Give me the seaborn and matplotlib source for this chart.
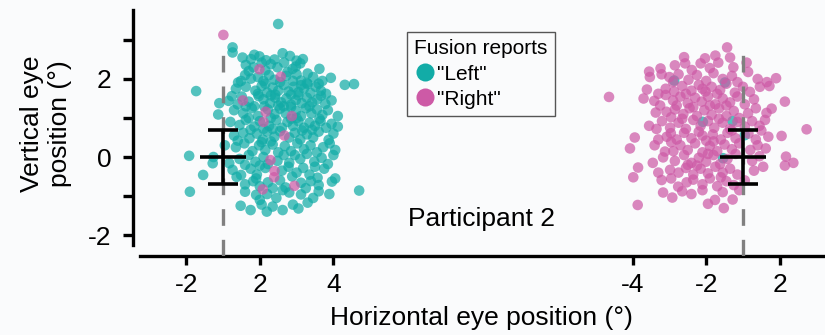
import numpy as np
import pandas as pd
import matplotlib
matplotlib.use("Agg")
import matplotlib.pyplot as plt
from matplotlib.lines import Line2D
import seaborn as sns

# ---------------------------------------------------------------------------
# Eye positions (deg) for each trial, split by stimulus block and by report.
# Horizontal values are relative to each block's fixation line.
# ---------------------------------------------------------------------------
REPORTS = ['"Left"', '"Right"']

BLOCK_A_LEFT = [
    (0.26, 2.81), (0.26, 2.68), (0.53, 2.55), (0.76, 2.51), (0.99, 2.58), (1.17, 2.48),
    (1.82, 2.59), (2.17, 2.51), (0.85, 2.62), (1.40, 2.50), (1.62, 2.66), (2.00, 2.47),
    (0.62, 2.36), (0.83, 2.30), (1.05, 2.42), (1.30, 2.38), (1.48, 2.30), (1.66, 2.42),
    (1.89, 2.26), (1.98, 2.32), (2.30, 2.14), (2.62, 2.26), (1.15, 2.22), (0.70, 2.20),
    (1.75, 2.18), (2.10, 2.40),
    (0.41, 1.91), (0.49, 1.95), (0.76, 2.01), (0.95, 2.05), (1.10, 1.95), (1.25, 2.10),
    (1.40, 1.98), (1.72, 2.08), (1.90, 1.95), (2.12, 1.96), (2.30, 1.87), (2.45, 2.05),
    (2.93, 2.03), (3.31, 1.85), (3.56, 1.87), (1.55, 1.92), (2.00, 2.12), (0.60, 2.10),
    (2.70, 1.95),
    (0.35, 1.75), (0.62, 1.80), (0.88, 1.70), (1.05, 1.82), (1.20, 1.65), (1.35, 1.78),
    (1.50, 1.70), (1.65, 1.85), (1.78, 1.68), (1.92, 1.80), (2.05, 1.66), (2.20, 1.76),
    (2.38, 1.64), (2.52, 1.80), (2.66, 1.70), (2.80, 1.62), (1.15, 1.88), (1.42, 1.60),
    (1.85, 1.60), (2.28, 1.90), (0.95, 1.62), (2.12, 1.84), (2.60, 1.88),
    (-0.10, 1.38), (0.15, 1.44), (0.24, 1.56), (0.51, 1.55), (0.97, 1.56), (0.40, 1.35),
    (0.70, 1.42), (0.85, 1.30), (1.10, 1.48), (1.28, 1.38), (1.42, 1.52), (1.58, 1.40),
    (1.72, 1.50), (1.85, 1.34), (1.98, 1.46), (2.14, 1.38), (2.28, 1.52), (2.42, 1.40),
    (2.56, 1.48), (2.66, 1.57), (2.78, 1.36), (2.95, 1.45), (1.30, 1.58), (1.65, 1.30),
    (2.05, 1.58), (2.35, 1.30), (1.50, 1.32), (0.62, 1.30),
    (-0.13, 1.09), (0.30, 1.20), (0.55, 1.12), (0.78, 1.25), (0.95, 1.05), (1.22, 1.22),
    (1.40, 1.10), (1.55, 1.24), (1.70, 1.12), (1.98, 1.18), (2.12, 1.05), (2.25, 1.25),
    (2.40, 1.12), (2.55, 1.22), (2.70, 1.08), (2.85, 1.20), (3.12, 1.05), (1.30, 1.00),
    (1.85, 1.28), (2.00, 1.00), (2.62, 0.98), (0.70, 1.00), (1.12, 1.30),
    (0.20, 0.90), (0.45, 0.82), (0.62, 0.95), (0.85, 0.78), (1.00, 0.92), (1.25, 0.80),
    (1.45, 0.95), (1.60, 0.75), (1.75, 0.90), (1.90, 0.80), (2.05, 0.92), (2.20, 0.75),
    (2.35, 0.88), (2.50, 0.80), (2.65, 0.92), (2.80, 0.75), (2.95, 0.85), (3.12, 0.78),
    (1.35, 0.72), (1.85, 0.98), (2.42, 0.70), (0.75, 0.70), (1.10, 0.72),
    (0.30, 0.55), (0.55, 0.62), (0.72, 0.48), (0.92, 0.60), (1.08, 0.45), (1.20, 0.65),
    (1.40, 0.52), (1.55, 0.66), (1.80, 0.50), (1.95, 0.62), (2.10, 0.45), (2.28, 0.58),
    (2.45, 0.50), (2.60, 0.65), (2.87, 0.44), (3.00, 0.60), (1.30, 0.40), (2.15, 0.68),
    (0.40, 0.42),
    (-0.26, 0.00), (0.05, 0.30), (0.35, 0.25), (0.58, 0.35), (0.80, 0.15), (0.98, 0.30),
    (1.15, 0.18), (1.35, 0.32), (1.50, 0.12), (1.68, 0.28), (1.85, 0.15), (2.02, 0.35),
    (2.20, 0.20), (2.38, 0.30), (2.55, 0.12), (2.72, 0.25), (2.90, 0.35), (3.05, 0.18),
    (1.05, 0.38), (1.95, 0.05),
    (-0.92, 0.03), (-0.28, -0.16), (0.17, -0.16), (0.45, -0.05), (0.70, 0.05), (0.88, -0.12),
    (1.10, 0.00), (1.48, -0.10), (1.65, 0.05), (1.80, -0.15), (2.10, -0.05), (2.28, 0.08),
    (2.48, -0.12), (2.68, -0.02), (2.85, -0.18), (3.00, 0.05), (1.22, -0.18), (0.60, -0.20),
    (-0.54, -0.46), (0.26, -0.33), (0.37, -0.51), (0.49, -0.46), (0.75, -0.30), (0.92, -0.45),
    (1.15, -0.28), (1.60, -0.35), (1.78, -0.25), (2.00, -0.40), (2.18, -0.28), (2.35, -0.45),
    (2.57, -0.53), (2.75, -0.30), (1.00, -0.22), (2.50, -0.25), (1.88, -0.50),
    (0.60, -0.70), (0.82, -0.62), (1.00, -0.75), (1.22, -0.65), (1.55, -0.60), (1.70, -0.78),
    (2.12, -0.66), (2.39, -0.62), (2.96, -0.63), (3.05, -0.55), (1.35, -0.80), (2.25, -0.80),
    (2.60, -0.72), (0.90, -0.55),
    (-0.90, -0.89), (0.60, -0.89), (0.90, -0.97), (1.20, -0.95), (1.45, -1.05), (1.80, -0.91),
    (2.12, -0.96), (2.45, -1.05), (2.89, -0.95), (3.70, -0.86), (1.00, -1.10), (1.62, -0.85),
    (2.60, -0.88),
    (0.48, -1.25), (0.75, -1.36), (1.19, -1.40), (1.35, -1.27), (1.62, -1.36), (2.30, -1.17),
    (1.90, -1.22), (1.05, -1.22), (2.05, -1.32),
    (1.50, 3.41), (-0.73, 1.69),
]

BLOCK_A_RIGHT = [
    (0.01, 3.13), (0.99, 2.25), (1.57, 2.06), (0.54, 1.45), (1.16, 1.16), (1.10, 0.90),
    (1.87, 1.05), (1.67, 0.55), (1.29, -0.08), (1.40, -0.36), (1.39, -0.52), (1.94, -0.74),
    (1.08, -0.83),
]

BLOCK_B_LEFT = [
    (-1.87, 1.96), (-0.49, 1.91), (-1.09, 0.90), (-0.28, 0.92), (0.05, 0.56), (-0.54, -0.03),
]

BLOCK_B_RIGHT = [
    (-0.43, 2.81), (-1.03, 2.53), (-0.35, 2.55), (-0.75, 2.60), (-1.60, 2.56),
    (-2.24, 2.27), (-1.57, 2.40), (-1.39, 2.23), (-0.67, 2.42), (-0.26, 2.30), (0.10, 2.42),
    (-1.85, 2.35), (-1.15, 2.40), (-0.90, 2.28), (-2.55, 2.19),
    (-2.53, 2.05), (-2.21, 2.12), (0.14, 2.18), (0.90, 2.02), (-2.00, 2.05), (-1.75, 2.12),
    (-1.48, 1.98), (-1.25, 2.10), (-1.00, 1.95), (-0.80, 2.15), (-0.55, 2.00), (-0.30, 2.08),
    (0.40, 2.00), (-1.90, 1.92), (-0.15, 1.92), (0.65, 1.92),
    (-2.61, 1.73), (-2.10, 1.75), (-1.87, 1.68), (-1.65, 1.82), (-1.40, 1.70), (-1.20, 1.85),
    (-1.02, 1.68), (-0.85, 1.80), (-0.62, 1.72), (-0.45, 1.88), (-0.22, 1.65), (0.00, 1.80),
    (0.19, 1.67), (0.46, 1.80), (0.72, 1.82), (-2.30, 1.62), (-1.55, 1.62), (-0.70, 1.62),
    (-1.10, 1.75),
    (-3.64, 1.54), (-2.70, 1.50), (-2.41, 1.44), (-2.10, 1.59), (-1.90, 1.45), (-1.70, 1.55),
    (-1.50, 1.38), (-1.30, 1.52), (-1.12, 1.42), (-0.95, 1.55), (-0.75, 1.35), (-0.55, 1.50),
    (-0.35, 1.40), (-0.15, 1.55), (0.05, 1.35), (0.30, 1.48), (1.14, 1.42), (-2.25, 1.32),
    (-1.80, 1.32), (-0.90, 1.32), (-0.45, 1.32),
    (-2.37, 1.14), (-2.08, 1.16), (-1.85, 1.22), (-1.62, 1.10), (-1.45, 1.25), (-1.25, 1.05),
    (-1.05, 1.20), (-0.85, 1.08), (-0.65, 1.25), (-0.45, 1.05), (-0.25, 1.18), (0.14, 1.12),
    (0.64, 1.13), (0.78, 1.24), (0.35, 1.25), (-1.95, 1.02), (-1.35, 1.28), (-0.10, 1.00),
    (-2.55, 0.80), (-2.20, 0.92), (-1.98, 0.75), (-1.75, 0.88), (-1.55, 0.72), (-1.35, 0.95),
    (-1.15, 0.80), (-0.95, 0.92), (-0.78, 0.75), (-0.55, 0.88), (-0.35, 0.72), (-0.15, 0.90),
    (0.05, 0.78), (0.25, 0.92), (0.45, 0.80), (1.73, 0.71), (-1.65, 0.98), (-0.65, 0.98),
    (-2.35, 0.72), (0.60, 0.95),
    (-2.94, 0.50), (-2.07, 0.52), (-1.96, 0.61), (-1.80, 0.45), (-1.60, 0.62), (-1.40, 0.48),
    (-1.20, 0.65), (-1.00, 0.42), (-0.82, 0.58), (-0.60, 0.45), (-0.42, 0.62), (-0.20, 0.48),
    (0.15, 0.60), (0.35, 0.45), (0.69, 0.52), (1.05, 0.54), (-2.30, 0.45), (-1.10, 0.55),
    (-0.30, 0.68), (0.50, 0.68),
    (-3.07, 0.22), (-2.12, 0.14), (-1.89, 0.15), (-1.70, 0.30), (-1.50, 0.18), (-1.30, 0.35),
    (-1.10, 0.12), (-0.90, 0.28), (-0.70, 0.15), (-0.50, 0.32), (-0.30, 0.20), (-0.10, 0.35),
    (0.20, 0.18), (0.40, 0.30), (0.62, 0.22), (-2.40, 0.30), (-1.95, 0.38), (-0.80, 0.40),
    (-2.17, -0.01), (-1.85, -0.10), (-1.60, 0.05), (-1.40, -0.15), (-1.20, -0.02), (-1.00, -0.12),
    (-0.80, 0.05), (-0.62, -0.18), (-0.42, -0.05), (-0.20, 0.08), (0.25, -0.10), (0.45, 0.02),
    (1.17, 0.01), (1.14, -0.22), (1.37, -0.15), (-2.45, -0.15), (-1.50, -0.20), (-0.95, 0.08),
    (-2.85, -0.27), (-1.98, -0.33), (-1.75, -0.40), (-1.55, -0.28), (-1.35, -0.45), (-1.15, -0.30),
    (-0.95, -0.42), (-0.75, -0.25), (-0.55, -0.40), (-0.35, -0.30), (-0.15, -0.45), (0.30, -0.35),
    (-2.30, -0.40), (-1.25, -0.22), (0.55, -0.25),
    (-2.98, -0.52), (-2.21, -0.59), (-1.76, -0.76), (-1.53, -0.65), (-1.35, -0.58), (-1.10, -0.70),
    (-0.90, -0.55), (-0.70, -0.75), (-0.45, -0.62), (-0.25, -0.72), (0.05, -0.60), (-1.95, -0.55),
    (-0.60, -0.52),
    (-2.17, -0.91), (-1.92, -1.04), (-1.10, -0.85), (-0.76, -1.10), (-0.28, -1.09), (-1.40, -0.95),
    (-0.55, -0.90), (-0.10, -0.85), (-1.65, -0.88),
    (-2.86, -1.23), (-0.52, -1.31), (-0.95, -1.20),
]

# Mean eye position and spread (deg) for each block
MEAN_X = [0.0, 0.0]
MEAN_Y = [0.0, 0.0]
SPREAD_X = [0.63, 0.63]
SPREAD_Y = [0.70, 0.70]

# Horizontal axis: tick places (relative to each block's fixation line) and labels
BLOCK_A_TICKS = [-1, 1, 3]
BLOCK_A_TICK_LABELS = ["-2", "2", "4"]
BLOCK_B_TICKS = [-3, -1, 1]
BLOCK_B_TICK_LABELS = ["-4", "-2", "2"]

Y_TICKS = [-2, -1, 0, 1, 2, 3]
Y_TICK_LABELS = ["-2", "", "0", "", "2", ""]

# ---------------------------------------------------------------------------
BLOCK_B_SHIFT = 14.13          # where block B sits along the shared axis
TEAL = "#12aca7"
PINK = "#cd5aa6"
BG = "#fafbfc"
FS = 19

sns.set_style("ticks")
plt.rcParams["font.family"] = ["Liberation Sans", "DejaVu Sans"]
plt.rcParams.update({"text.color": "black", "axes.edgecolor": "black",
                     "xtick.color": "black", "ytick.color": "black",
                     "axes.labelcolor": "black"})


def frame(points, report, shift):
    arr = np.asarray(points, dtype=float)
    return pd.DataFrame({"x": arr[:, 0] + shift, "y": arr[:, 1], "report": report})


df = pd.concat([
    frame(BLOCK_A_LEFT, REPORTS[0], 0.0),
    frame(BLOCK_B_LEFT, REPORTS[0], BLOCK_B_SHIFT),
    frame(BLOCK_A_RIGHT, REPORTS[1], 0.0),
    frame(BLOCK_B_RIGHT, REPORTS[1], BLOCK_B_SHIFT),
], ignore_index=True)

fig = plt.figure(figsize=(8.25, 3.35), dpi=100)
fig.patch.set_facecolor(BG)
ax = fig.add_axes([133 / 825, 79 / 335, 692 / 825, 246 / 335])
ax.set_facecolor(BG)

sns.scatterplot(data=df, x="x", y="y", hue="report", hue_order=REPORTS,
                palette=[TEAL, PINK], s=58, alpha=0.72, linewidth=0,
                legend=False, ax=ax, zorder=2)

ax.set_xlim(-2.446, 16.36)
ax.set_ylim(-2.538, 3.769)

# fixation lines
centres = [0.0, BLOCK_B_SHIFT]
for cx in centres:
    ax.plot([cx, cx], [-2.538, 2.74], color="#808080", lw=2.4,
            dashes=(5, 4.2), zorder=3)

# mean +/- spread crosses
cx_arr = np.array(MEAN_X) + np.array(centres)
ax.errorbar(cx_arr, MEAN_Y, yerr=SPREAD_Y, fmt="none", ecolor="black",
            elinewidth=2.6, capsize=10.8, capthick=2.6, zorder=4)
ax.errorbar(cx_arr, MEAN_Y, xerr=SPREAD_X, fmt="none", ecolor="black",
            elinewidth=2.6, capsize=0, zorder=4)

# axes styling
xt = list(BLOCK_A_TICKS) + [t + BLOCK_B_SHIFT for t in BLOCK_B_TICKS]
ax.set_xticks(xt)
ax.set_xticklabels(BLOCK_A_TICK_LABELS + BLOCK_B_TICK_LABELS)
ax.set_yticks(Y_TICKS)
ax.set_yticklabels(Y_TICK_LABELS)
ax.set_xlabel("")
ax.set_ylabel("")
for s in ("top", "right"):
    ax.spines[s].set_visible(False)
for s in ("left", "bottom"):
    ax.spines[s].set_linewidth(2.4)
    ax.spines[s].set_color("black")
ax.spines["left"].set_bounds(-2.26, 3.769)
ax.spines["bottom"].set_bounds(-2.255, 16.36)
ax.tick_params(axis="y", length=7.5, width=2.4, labelsize=FS, pad=8,
               colors="black")
ax.tick_params(axis="x", length=6.5, width=2.4, labelsize=FS, pad=6,
               colors="black")

# texts
fig.text(481 / 825, 1 - 318 / 335, "Horizontal eye position (°)",
         ha="center", va="center", fontsize=FS, color="black")
fig.text(46 / 825, 1 - 124 / 335, "Vertical eye\nposition (°)", rotation=90,
         ha="center", va="center", fontsize=FS, multialignment="center",
         color="black")
fig.text(408 / 825, 1 - 219 / 335, "Participant 2", ha="left", va="center",
         fontsize=FS, color="black")

handles = [Line2D([], [], marker="o", ls="", markerfacecolor=c,
                  markeredgewidth=0, markersize=13) for c in (TEAL, PINK)]
leg = fig.legend(handles, REPORTS, title="Fusion reports", loc="upper left",
                 bbox_to_anchor=(407 / 825, 1 - 32 / 335), fontsize=15,
                 title_fontsize=15, handletextpad=0.1, handlelength=1.0,
                 borderpad=0.35, labelspacing=0.3, borderaxespad=0,
                 alignment="left", fancybox=False, edgecolor="#555555",
                 framealpha=1, facecolor=BG, labelcolor="black")
leg.get_frame().set_linewidth(1.0)
leg.get_title().set_color("black")

fig.savefig("out.png", dpi=100, facecolor=BG)
